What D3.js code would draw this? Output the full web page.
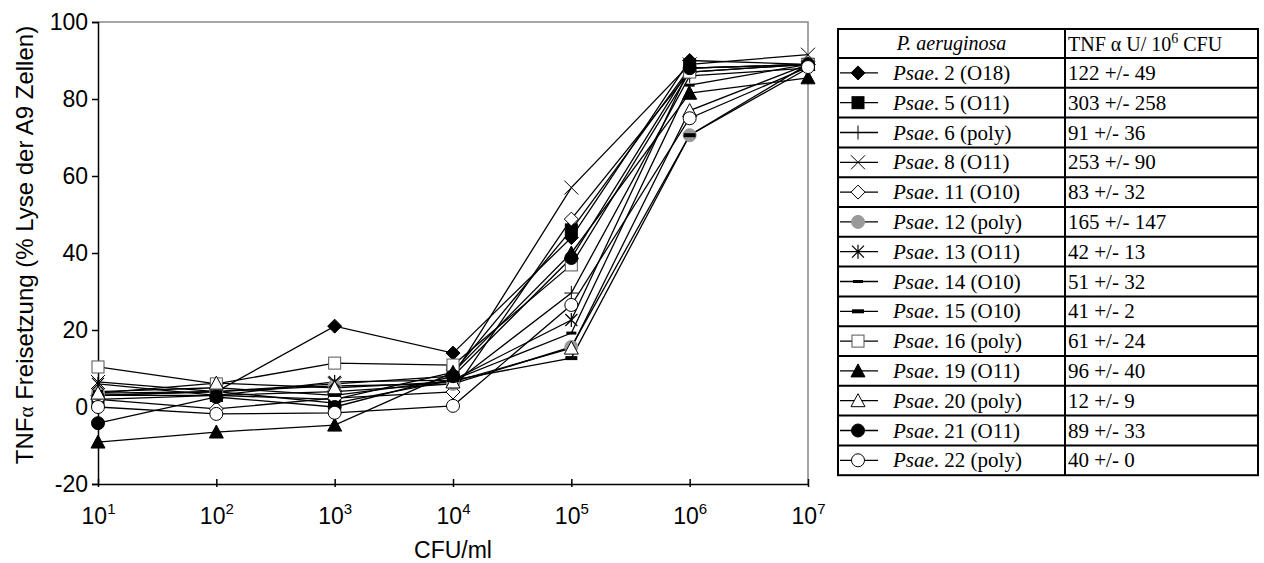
<!DOCTYPE html>
<html>
<head>
<meta charset="utf-8">
<script src="https://cdn.jsdelivr.net/npm/d3@7"></script>
<style>
  body { margin: 0; background: #fff; }
  svg { display: block; }
</style>
</head>
<body>
<div id="chart"></div>
<script>
// x values (CFU/ml) and per-strain readings (% lysis)
var cfu = [1e1, 1e2, 1e3, 1e4, 1e5, 1e6, 1e7];
var yTicks = [-20, 0, 20, 40, 60, 80, 100];

var strains = ["2 (O18)", "5 (O11)", "6 (poly)", "8 (O11)", "11 (O10)", "12 (poly)", "13 (O11)",
               "14 (O10)", "15 (O10)", "16 (poly)", "19 (O11)", "20 (poly)", "21 (O11)", "22 (poly)"];
var tnf = ["122 +/- 49", "303 +/- 258", "91 +/- 36", "253 +/- 90", "83 +/- 32", "165 +/- 147", "42 +/- 13",
           "51 +/- 32", "41 +/- 2", "61 +/- 24", "96 +/- 40", "12 +/- 9", "89 +/- 33", "40 +/- 0"];
var markers = ["diamond", "square", "plus", "cross", "diamondOpen", "circleGrey", "star",
               "dash", "dashBold", "squareOpen", "triangle", "triangleOpen", "circle", "circleOpen"];

var psae2  = [3, 4, 21, 14, 44, 90, 89];
var psae5  = [2, 3, 2, 9, 46, 88, 89];
var psae6  = [3, 3, 4, 6, 29.6, 86, 88];
var psae8  = [6.5, 4, 6, 8, 57, 89, 91.5];
var psae11 = [2, -0.5, 2.3, 3.9, 48.8, 87, 89];
var psae12 = [3.6, 4, 5.5, 6, 15.6, 70.6, 89];
var psae13 = [6, 3, 6.5, 7, 22.6, 88, 89];
var psae14 = [4, 5, 3, 7, 19.2, 83.6, 89];
var psae15 = [3, 4, 1, 7, 12.7, 70.6, 88];
var psae16 = [10.4, 6, 11.4, 10.9, 36.9, 87, 89];
var psae19 = [-9.1, -6.5, -4.7, 9, 40, 81.5, 85.5];
var psae20 = [3.6, 6.2, 5, 6.5, 15.3, 77, 89];
var psae21 = [-4.2, 2.6, 0, 8, 38.7, 88, 89];
var psae22 = [0, -1.8, -1.5, 0.3, 26.5, 75, 88.3];

var values = [psae2, psae5, psae6, psae8, psae11, psae12, psae13,
              psae14, psae15, psae16, psae19, psae20, psae21, psae22];

var W = 1264, H = 563;
var svg = d3.select("#chart").append("svg").attr("width", W).attr("height", H);

var x = d3.scaleLog().domain([1e1, 1e7]).range([98, 808]);
var y = d3.scaleLinear().domain([-20, 100]).range([484, 22]);

var sans = "Liberation Sans, Arial, sans-serif";
var serif = "Liberation Serif, Times New Roman, serif";

// marker drawing
function drawMarker(g, type, cx, cy) {
  var s = g.append("g").attr("transform", "translate(" + cx + "," + cy + ")");
  switch (type) {
    case "diamond":
    case "diamondOpen":
      s.append("path").attr("d", "M0,-7L7,0L0,7L-7,0Z")
        .attr("fill", type == "diamond" ? "#000" : "#fff").attr("stroke", "#000").attr("stroke-width", 1);
      break;
    case "square":
    case "squareOpen":
      s.append("rect").attr("x", -6).attr("y", -6).attr("width", 12).attr("height", 12)
        .attr("fill", type == "square" ? "#000" : "#fff").attr("stroke", type == "square" ? "#000" : "#555").attr("stroke-width", 1);
      break;
    case "triangle":
    case "triangleOpen":
      s.append("path").attr("d", "M0,-7L7,6L-7,6Z")
        .attr("fill", type == "triangle" ? "#000" : "#fff").attr("stroke", "#000").attr("stroke-width", 1);
      break;
    case "circle":
    case "circleOpen":
    case "circleGrey":
      s.append("circle").attr("r", 6.5)
        .attr("fill", type == "circle" ? "#000" : (type == "circleGrey" ? "#999" : "#fff"))
        .attr("stroke", type == "circleGrey" ? "#999" : "#000").attr("stroke-width", 1);
      break;
    case "plus":
      s.append("path").attr("d", "M-7,0H7M0,-7V7").attr("stroke", "#000").attr("stroke-width", 1);
      break;
    case "cross":
      s.append("path").attr("d", "M-7,-7L7,7M7,-7L-7,7").attr("stroke", "#000").attr("stroke-width", 1);
      break;
    case "star":
      s.append("path").attr("d", "M-6,-6L6,6M6,-6L-6,6M0,-7V7").attr("stroke", "#000").attr("stroke-width", 1.2);
      break;
    case "dash":
      s.append("rect").attr("x", -5).attr("y", -1.5).attr("width", 10).attr("height", 3).attr("fill", "#000");
      break;
    case "dashBold":
      s.append("rect").attr("x", -6).attr("y", -2).attr("width", 12).attr("height", 4).attr("fill", "#000");
      break;
  }
}

// plot frame: top/right grey, left/bottom black
svg.append("path").attr("d", "M98,22H808V484").attr("fill", "none").attr("stroke", "#888").attr("stroke-width", 1.5);

// y axis
var yAxis = svg.append("g").attr("transform", "translate(98,0)")
  .call(d3.axisLeft(y).tickValues(yTicks).tickSize(6).tickPadding(4).tickFormat(function(d) { return String(d); }));
yAxis.select(".domain").attr("stroke", "#000").attr("stroke-width", 1.5);
yAxis.selectAll(".tick line").attr("stroke", "#000").attr("stroke-width", 1.5);
yAxis.selectAll(".tick text").attr("font-family", sans).attr("font-size", 23).attr("fill", "#000");

// x axis
var xAxis = svg.append("g").attr("transform", "translate(0,484)")
  .call(d3.axisBottom(x).tickValues(cfu).tickSize(0).tickFormat(""));
xAxis.select(".domain").attr("stroke", "#000").attr("stroke-width", 1.5);
xAxis.selectAll(".tick line").attr("y1", -5).attr("y2", 3).attr("stroke", "#000").attr("stroke-width", 1.5);
xAxis.selectAll(".tick").append("text")
  .attr("y", 40).attr("text-anchor", "middle")
  .attr("font-family", sans).attr("font-size", 23).attr("fill", "#000")
  .each(function(d) {
    var t = d3.select(this);
    t.append("tspan").text("10");
    t.append("tspan").attr("dy", -10).attr("font-size", 15).text(Math.round(Math.log10(d)));
  });

svg.append("text").attr("x", 453).attr("y", 558).attr("text-anchor", "middle")
  .attr("font-family", sans).attr("font-size", 23).text("CFU/ml");

var ylab = svg.append("text").attr("transform", "translate(33,245) rotate(-90)").attr("text-anchor", "middle")
  .attr("font-family", sans).attr("font-size", 24);
ylab.append("tspan").text("TNF");
ylab.append("tspan").attr("font-family", serif).attr("font-size", 21).text("α");
ylab.append("tspan").text(" Freisetzung (% Lyse der A9 Zellen)");

// lines
var line = d3.line().x(function(d, i) { return x(cfu[i]); }).y(function(d) { return y(d); });
var plot = svg.append("g");
values.forEach(function(v) {
  plot.append("path").attr("d", line(v)).attr("fill", "none").attr("stroke", "#000").attr("stroke-width", 1.3);
});
values.forEach(function(v, k) {
  v.forEach(function(d, i) { drawMarker(plot, markers[k], x(cfu[i]), y(d)); });
});

// legend table
var tx = 838, tw = 420, col = 1065, tTop = 29, hh = 29, rh = 29.8;
var tbl = svg.append("g");
var nRows = strains.length;
var tBottom = tTop + hh + rh * nRows;
tbl.append("rect").attr("x", tx).attr("y", tTop).attr("width", tw).attr("height", tBottom - tTop)
  .attr("fill", "none").attr("stroke", "#000").attr("stroke-width", 2);
tbl.append("line").attr("x1", col).attr("x2", col).attr("y1", tTop).attr("y2", tBottom).attr("stroke", "#000").attr("stroke-width", 2);
for (var r = 0; r < nRows; r++) {
  var ry = tTop + hh + rh * r;
  tbl.append("line").attr("x1", tx).attr("x2", tx + tw).attr("y1", ry).attr("y2", ry).attr("stroke", "#000").attr("stroke-width", 2);
}
tbl.append("text").attr("x", (tx + col) / 2).attr("y", tTop + 21).attr("text-anchor", "middle")
  .attr("font-family", serif).attr("font-size", 20).attr("font-style", "italic").text("P. aeruginosa");
var hdr = tbl.append("text").attr("x", col + 3).attr("y", tTop + 22).attr("font-family", serif).attr("font-size", 20);
hdr.append("tspan").text("TNF α U/ 10");
hdr.append("tspan").attr("dy", -8).attr("font-size", 14).text("6");
hdr.append("tspan").attr("dy", 8).text(" CFU");

strains.forEach(function(s, i) {
  var cy = tTop + hh + rh * i + rh / 2;
  tbl.append("line").attr("x1", tx + 2).attr("x2", tx + 40).attr("y1", cy).attr("y2", cy).attr("stroke", "#000").attr("stroke-width", 1.3);
  drawMarker(tbl, markers[i], tx + 20, cy);
  var t = tbl.append("text").attr("x", tx + 55).attr("y", cy + 7).attr("font-family", serif).attr("font-size", 21);
  t.append("tspan").attr("font-style", "italic").text("Psae");
  t.append("tspan").text(".  " + s);
  tbl.append("text").attr("x", col + 3).attr("y", cy + 7).attr("font-family", serif).attr("font-size", 21).text(tnf[i]);
});
</script>
</body>
</html>
